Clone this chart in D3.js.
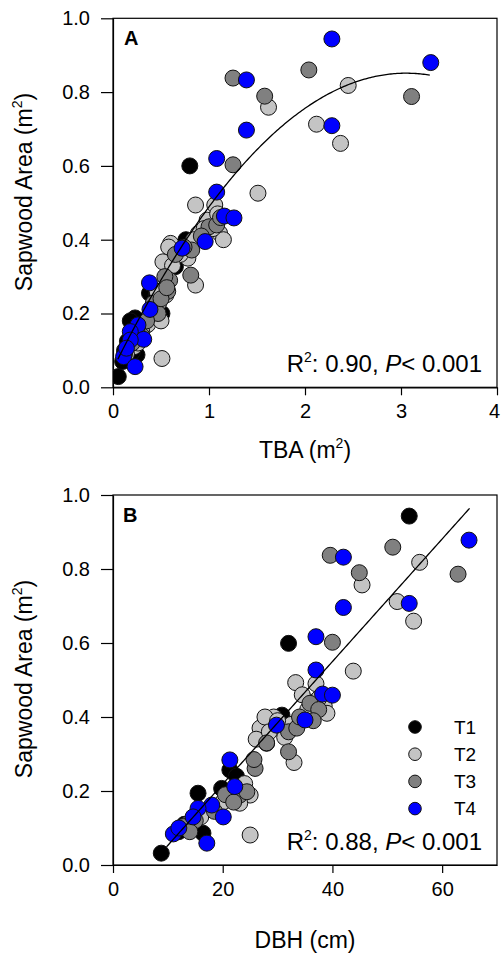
<!DOCTYPE html>
<html>
<head>
<meta charset="utf-8">
<script src="https://cdn.jsdelivr.net/npm/d3@7"></script>
<style>
  html, body { margin: 0; padding: 0; background: #fff; }
  svg { display: block; }
  text { font-family: "Liberation Sans", Arial, sans-serif; fill: #000; }
</style>
</head>
<body>
<svg id="chart" width="501" height="955"></svg>
<script>
// ---------------- DATA ----------------
const groups = ["T1", "T2", "T3", "T4"];

// Panel A: TBA (m2) vs Sapwood area (m2)
const aT1_tba = [0.80, 0.76, 0.64, 0.65, 0.38, 0.23, 0.18, 0.055, 0.25, 0.12, 0.10, 0.28, 0.45, 0.15, 0.51, 0.33, 0.20];
const aT1_sa  = [0.60, 0.40, 0.33, 0.327, 0.255, 0.188, 0.18, 0.029, 0.088, 0.10, 0.07, 0.14, 0.25, 0.125, 0.20, 0.165, 0.095];
const aT2_tba = [2.45, 1.62, 2.12, 2.37, 1.51, 0.86, 1.06, 0.98, 1.11, 0.89, 0.60, 0.78, 0.86, 0.51, 0.58, 0.52, 1.15, 1.04, 0.93, 0.70, 0.62, 0.48, 0.55, 0.44, 0.36, 0.30, 0.22, 0.14, 0.50, 0.46, 1.09, 0.95, 0.84, 0.40, 0.26];
const aT2_sa  = [0.818, 0.759, 0.713, 0.661, 0.526, 0.494, 0.494, 0.453, 0.418, 0.417, 0.39, 0.35, 0.277, 0.078, 0.38, 0.34, 0.40, 0.43, 0.40, 0.36, 0.33, 0.23, 0.25, 0.20, 0.17, 0.15, 0.11, 0.09, 0.18, 0.26, 0.47, 0.43, 0.40, 0.21, 0.12];
const aT3_tba = [2.04, 1.25, 1.58, 3.11, 1.25, 1.00, 1.08, 0.82, 0.81, 0.59, 0.57, 0.54, 0.42, 0.47, 0.50, 0.30, 0.20, 0.12, 0.92, 0.65, 1.12, 0.35, 0.25, 0.56, 0.74];
const aT3_sa  = [0.86, 0.838, 0.789, 0.788, 0.603, 0.435, 0.44, 0.372, 0.304, 0.29, 0.26, 0.30, 0.228, 0.20, 0.24, 0.14, 0.12, 0.09, 0.41, 0.36, 0.46, 0.18, 0.15, 0.27, 0.38];
const aT4_tba = [2.28, 3.31, 1.39, 2.28, 1.39, 1.08, 1.08, 1.16, 1.26, 0.96, 0.72, 0.38, 0.385, 0.26, 0.18, 0.32, 0.18, 0.11, 0.23, 0.14];
const aT4_sa  = [0.944, 0.88, 0.833, 0.709, 0.697, 0.62, 0.529, 0.464, 0.459, 0.395, 0.377, 0.283, 0.211, 0.169, 0.151, 0.13, 0.128, 0.083, 0.056, 0.106];

// Panel B: DBH (cm) vs Sapwood area (m2)
const bT1_dbh = [54.0, 32.0, 30.8, 28.0, 21.3, 19.8, 15.5, 8.8, 16.4, 13.0, 22.5, 12.0, 17.5];
const bT1_sa  = [0.943, 0.599, 0.405, 0.329, 0.257, 0.207, 0.194, 0.032, 0.086, 0.11, 0.24, 0.09, 0.15];
const bT2_dbh = [55.9, 45.4, 51.8, 54.8, 43.8, 33.3, 37.0, 29.3, 26.8, 26.1, 31.3, 33.0, 25.0, 27.7, 28.5, 25.0, 23.1, 36.0, 38.5, 34.5, 39.0, 32.5, 24.0, 21.0, 18.5, 16.0, 13.5, 22.0, 35.5, 30.0, 37.5, 20.0, 14.5];
const bT2_sa  = [0.818, 0.757, 0.712, 0.659, 0.524, 0.493, 0.49, 0.40, 0.37, 0.34, 0.345, 0.277, 0.081, 0.40, 0.36, 0.189, 0.167, 0.44, 0.43, 0.46, 0.41, 0.38, 0.22, 0.18, 0.15, 0.13, 0.11, 0.20, 0.42, 0.39, 0.45, 0.17, 0.12];
const bT3_dbh = [51.0, 39.6, 44.9, 62.9, 40.0, 32.0, 32.0, 25.9, 25.7, 23.1, 24.4, 33.5, 35.9, 12.8, 18.5, 37.5, 34.0, 28.0, 15.0, 20.5, 36.5, 22.0, 14.0];
const bT3_sa  = [0.859, 0.837, 0.79, 0.786, 0.602, 0.36, 0.306, 0.261, 0.285, 0.189, 0.198, 0.37, 0.437, 0.104, 0.145, 0.42, 0.40, 0.33, 0.12, 0.19, 0.39, 0.17, 0.09];
const bT4_dbh = [64.9, 42.0, 54.0, 42.0, 37.0, 37.0, 38.2, 40.0, 35.0, 29.8, 21.3, 22.2, 18.0, 15.5, 14.6, 20.1, 11.0, 17.1, 12.0];
const bT4_sa  = [0.878, 0.832, 0.707, 0.696, 0.617, 0.527, 0.462, 0.459, 0.392, 0.378, 0.284, 0.212, 0.162, 0.153, 0.13, 0.13, 0.084, 0.059, 0.10];

// Tick labels
const yTicks = [0, 0.2, 0.4, 0.6, 0.8, 1.0];
const xTicksA = [0, 1, 2, 3, 4];
const xTicksB = [0, 20, 40, 60];

// Fitted curves: A quadratic (a + b x + c x^2), B linear (a + b x)
const fitA = { a: 0.05, b: 0.525, c: -0.086, from: 0.05, to: 3.3 };
const fitB = { a: -0.1125, b: 0.01656, from: 9.75, to: 65.0 };

// Annotations
const statA = { r2: "0.90", p: "0.001" };
const statB = { r2: "0.88", p: "0.001" };

// ---------------- STYLE ----------------
const colors = { T1: "#000000", T2: "#c4c4c4", T3: "#808080", T4: "#0000ff" };
const FONT_TICK = 20, FONT_TITLE = 23, FONT_STAT = 24, FONT_LEG = 19;

const svg = d3.select("#chart");

function zipPts(xs, ys) { return xs.map((x, i) => ({ x: x, y: ys[i] })); }

function drawPanel(opt) {
  const g = svg.append("g");
  const x = d3.scaleLinear().domain(opt.xDomain).range([113, 497]);
  const y = d3.scaleLinear().domain([0, 1]).range([opt.bottom, opt.top]);

  // frame
  g.append("rect")
    .attr("x", x.range()[0]).attr("y", opt.top)
    .attr("width", x.range()[1] - x.range()[0])
    .attr("height", opt.bottom - opt.top)
    .attr("fill", "none").attr("stroke", "#000").attr("stroke-width", 1.2);

  // y axis
  const yAxis = d3.axisLeft(y).tickValues(yTicks).tickFormat(d3.format(".1f"))
    .tickSizeInner(12).tickSizeOuter(0).tickPadding(11);
  const ya = g.append("g").attr("transform", `translate(${x.range()[0]},0)`).call(yAxis);
  ya.select(".domain").attr("stroke-width", 1.2);
  ya.selectAll(".tick line").attr("stroke-width", 1.2);
  ya.selectAll(".tick text").attr("font-size", FONT_TICK).attr("font-family", "Liberation Sans, Arial, sans-serif");

  // x axis
  const xAxis = d3.axisBottom(x).tickValues(opt.xTicks).tickFormat(d3.format("d"))
    .tickSizeInner(8).tickSizeOuter(0).tickPadding(9);
  const xa = g.append("g").attr("transform", `translate(0,${opt.bottom})`).call(xAxis);
  xa.select(".domain").attr("stroke-width", 1.2);
  xa.selectAll(".tick line").attr("stroke-width", 1.2);
  xa.selectAll(".tick text").attr("font-size", FONT_TICK).attr("font-family", "Liberation Sans, Arial, sans-serif")
    .attr("dx", d => (x(d) > 490 ? -3 : 0));

  // points
  const clipId = "clip" + opt.id;
  svg.append("clipPath").attr("id", clipId).append("rect")
    .attr("x", 113).attr("y", opt.top).attr("width", 384).attr("height", opt.bottom - opt.top);
  const pg = g.append("g").attr("clip-path", `url(#${clipId})`);
  opt.series.forEach(s => {
    pg.append("g").selectAll("circle").data(s.pts).join("circle")
      .attr("cx", d => x(d.x)).attr("cy", d => y(d.y)).attr("r", 8)
      .attr("fill", colors[s.name]).attr("stroke", "#111").attr("stroke-width", 1);
  });

  // fit line
  const xs = d3.range(0, 201).map(i => opt.fit.from + (opt.fit.to - opt.fit.from) * i / 200);
  const fitPts = xs.map(v => ({ x: v, y: opt.fitFn(v) }));
  g.append("path").datum(fitPts)
    .attr("d", d3.line().x(d => x(d.x)).y(d => y(d.y)))
    .attr("fill", "none").attr("stroke", "#000").attr("stroke-width", 1.3);

  // panel letter
  g.append("text").attr("x", opt.letterX).attr("y", opt.top + 27)
    .attr("font-size", 20).attr("font-weight", "bold").text(opt.letter);

  // stat annotation
  const st = g.append("text").attr("x", 482).attr("y", opt.bottom - 15.5)
    .attr("text-anchor", "end").attr("font-size", FONT_STAT);
  st.append("tspan").text("R");
  st.append("tspan").attr("font-size", 14).attr("dy", -10).text("2");
  st.append("tspan").attr("dy", 10).text(": " + opt.stat.r2 + ", ");
  st.append("tspan").attr("font-style", "italic").text("P");
  st.append("tspan").text("< " + opt.stat.p);

  // y title
  const yt = g.append("text")
    .attr("transform", `translate(32,${opt.yTitleY}) rotate(-90)`)
    .attr("text-anchor", "middle").attr("font-size", FONT_TITLE);
  yt.append("tspan").text("Sapwood Area (m");
  yt.append("tspan").attr("font-size", 14).attr("dy", -10).text("2");
  yt.append("tspan").attr("dy", 10).text(")");

  // x title
  const xt = g.append("text").attr("x", 305).attr("y", opt.xTitleY)
    .attr("text-anchor", "middle").attr("font-size", FONT_TITLE);
  opt.xTitle(xt);

  return { x, y, g };
}

drawPanel({
  id: "A", letter: "A", letterX: 124, top: 18.3, bottom: 387.3,
  xDomain: [0, 4], xTicks: xTicksA,
  series: [
    { name: "T1", pts: zipPts(aT1_tba, aT1_sa) },
    { name: "T2", pts: zipPts(aT2_tba, aT2_sa) },
    { name: "T3", pts: zipPts(aT3_tba, aT3_sa) },
    { name: "T4", pts: zipPts(aT4_tba, aT4_sa) }
  ],
  fit: fitA, fitFn: v => fitA.a + fitA.b * v + fitA.c * v * v,
  stat: statA, yTitleY: 192, xTitleY: 458,
  xTitle: t => {
    t.append("tspan").text("TBA (m");
    t.append("tspan").attr("font-size", 14).attr("dy", -10).text("2");
    t.append("tspan").attr("dy", 10).text(")");
  }
});

const pB = drawPanel({
  id: "B", letter: "B", letterX: 123, top: 495, bottom: 865,
  xDomain: [0, 70], xTicks: xTicksB,
  series: [
    { name: "T1", pts: zipPts(bT1_dbh, bT1_sa) },
    { name: "T2", pts: zipPts(bT2_dbh, bT2_sa) },
    { name: "T3", pts: zipPts(bT3_dbh, bT3_sa) },
    { name: "T4", pts: zipPts(bT4_dbh, bT4_sa) }
  ],
  fit: fitB, fitFn: v => fitB.a + fitB.b * v,
  stat: statB, yTitleY: 679, xTitleY: 948,
  xTitle: t => t.text("DBH (cm)")
});

// legend (panel B)
const leg = pB.g.append("g");
groups.forEach((name, i) => {
  const cy = 727 + i * 27.2;
  leg.append("circle").attr("cx", 415).attr("cy", cy).attr("r", 6.3)
    .attr("fill", colors[name]).attr("stroke", "#111").attr("stroke-width", 1);
  leg.append("text").attr("x", 454).attr("y", cy + 6.8)
    .attr("font-size", FONT_LEG).text(name);
});
</script>
</body>
</html>
